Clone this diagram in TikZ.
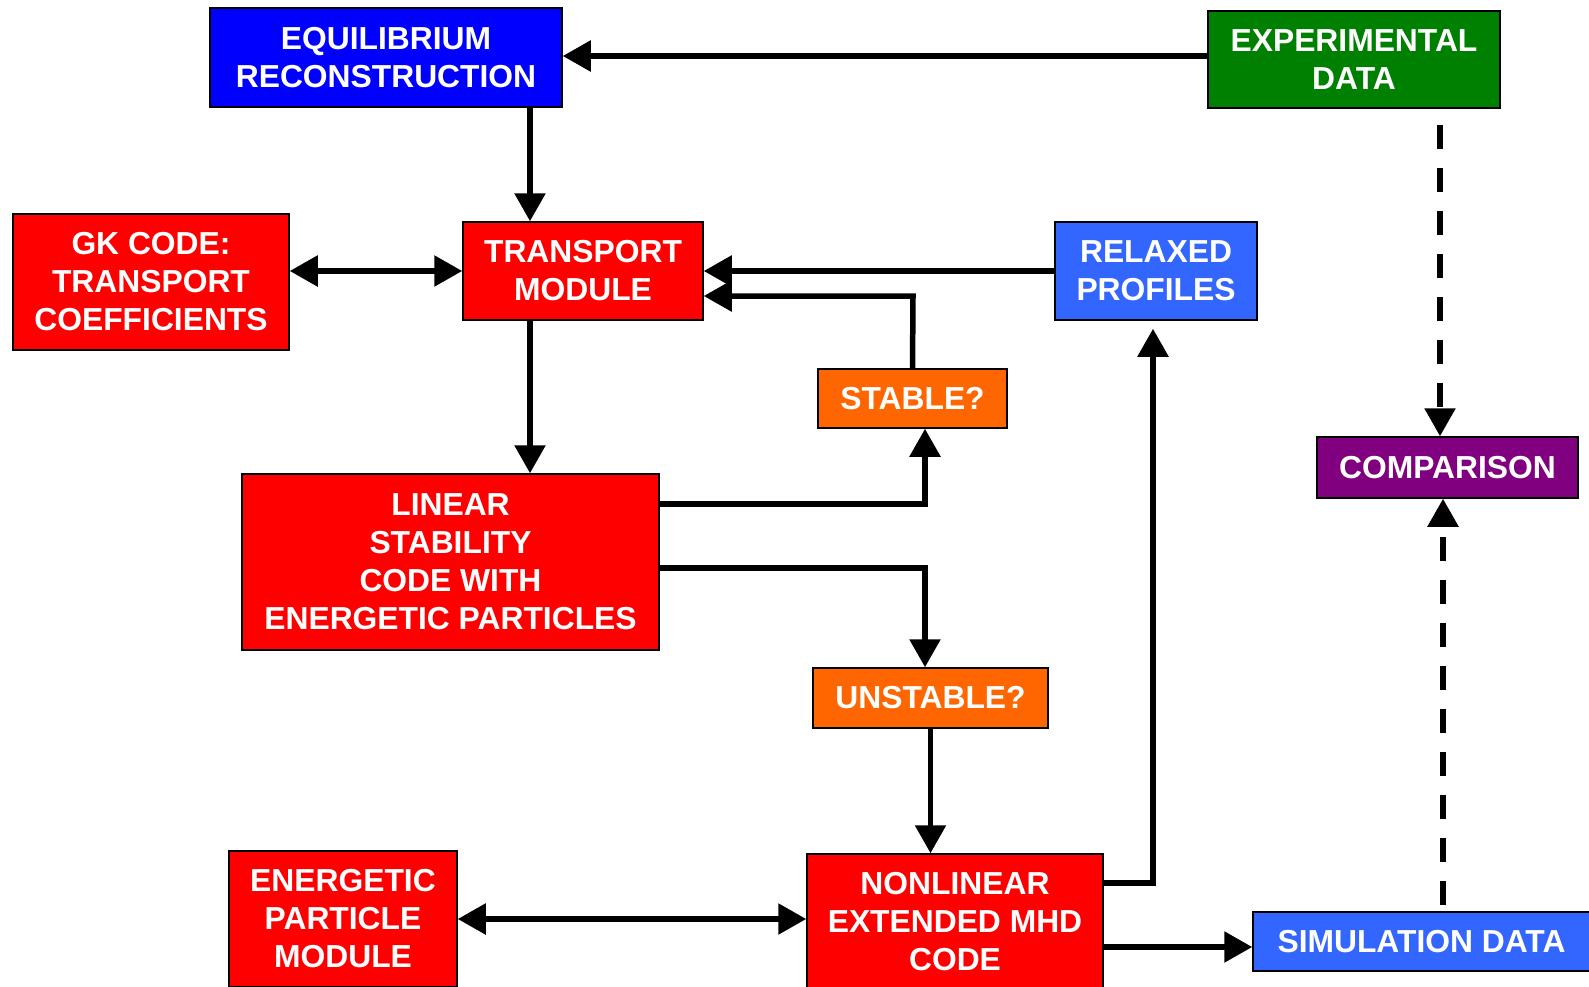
\documentclass[tikz,border=0pt]{standalone}
\usepackage{fontspec}
\setmainfont{Liberation Sans}
\usepackage{tikz}
\usetikzlibrary{arrows.meta, positioning}
\definecolor{eqblue}{HTML}{0000FF}
\definecolor{expgreen}{HTML}{008000}
\definecolor{codered}{HTML}{FF0000}
\definecolor{lightblue}{HTML}{3366FF}
\definecolor{askorange}{HTML}{FF6600}
\definecolor{cmppurple}{HTML}{800080}
\tikzstyle{block}=[draw=black,line width=1.5pt,text=white,inner sep=0pt,align=center,font=\fontsize{31.8}{38}\selectfont\bfseries]
\tikzstyle{mainedge}=[-{Triangle[length=28pt,width=30pt]},line width=5.5pt]
\tikzstyle{bothedge}=[{Triangle[length=28pt,width=30pt]}-{Triangle[length=28pt,width=30pt]},line width=5.5pt]
\tikzstyle{dashedge}=[mainedge,dash pattern=on 24pt off 19pt]

\begin{document}
\begin{tikzpicture}[x=1pt,y=-1pt]
\useasboundingbox (0,0) rectangle (1589,986);
%\draw[step=100,gray,very thin] (0,0) grid (1589,986);
\node[block,fill=eqblue,minimum width=352,minimum height=99] (equil) at (386,57.5) {EQUILIBRIUM\\RECONSTRUCTION};
\node[block,fill=expgreen,minimum width=292,minimum height=97] (exper) at (1354,59.5) {EXPERIMENTAL\\DATA};
\node[block,fill=codered,minimum width=276,minimum height=136] (gk) at (151,282) {GK CODE:\\TRANSPORT\\COEFFICIENTS};
\node[block,fill=codered,minimum width=240,minimum height=98] (trans) at (583,271) {TRANSPORT\\MODULE};
\node[block,fill=lightblue,minimum width=202,minimum height=98] (relax) at (1156,271) {RELAXED\\PROFILES};
\node[block,fill=askorange,minimum width=189,minimum height=59] (stable) at (912.5,398.5) {STABLE?};
\node[block,fill=cmppurple,minimum width=261,minimum height=61] (comp) at (1447.5,467.5) {COMPARISON};
\node[block,fill=codered,minimum width=417,minimum height=176] (linear) at (450.5,562) {LINEAR\\STABILITY\\CODE WITH\\ENERGETIC PARTICLES};
\node[block,fill=askorange,minimum width=235,minimum height=60] (unstable) at (930.5,698) {UNSTABLE?};
\node[block,fill=codered,minimum width=228,minimum height=136] (energ) at (343,919) {ENERGETIC\\PARTICLE\\MODULE};
\node[block,fill=codered,minimum width=296,minimum height=135] (nonlin) at (955,921.5) {NONLINEAR\\EXTENDED MHD\\CODE};
\node[block,fill=lightblue,minimum width=337,minimum height=59] (simul) at (1421.5,941.5) {SIMULATION DATA};

% bend points
\coordinate (e1) at (0,56);
\coordinate (tx) at (530,0);
\coordinate (s1) at (913,296);
\coordinate (l1) at (925,504);
\coordinate (l2) at (925,568);
\coordinate (n1) at (1153,883);
\coordinate (n2) at (0,947);
\coordinate (d1) at (1440,125);
\coordinate (d2) at (1443,905);

\draw[mainedge] (exper.west |- e1) -- (equil.east |- e1);
\draw[mainedge] (equil.south -| tx) -- (trans.north -| tx);
\draw[bothedge] (gk.east |- trans) -- (trans.west);
\draw[mainedge] (relax.west) -- (trans.east);
\draw[mainedge] (stable.north) -- (s1) -- (s1 -| trans.east);
\draw[mainedge] (trans.south -| tx) -- (linear.north -| tx);
\draw[mainedge] (l1 -| linear.east) -- (l1) -- (stable.south -| l1);
\draw[mainedge] (l2 -| linear.east) -- (l2) -- (unstable.north -| l2);
\draw[mainedge] (unstable.south) -- (unstable.south |- nonlin.north);
\draw[bothedge] (energ.east) -- (energ.east -| nonlin.west);
\draw[mainedge,shorten >=8pt] (n1 -| nonlin.east) -- (n1) -- (relax.south -| n1);
\draw[mainedge] (nonlin.east |- n2) -- (simul.west |- n2);

\draw[dashedge] (d1) -- (comp.north -| d1);
\draw[dashedge] (d2) -- (comp.south -| d2);

\end{tikzpicture}
\end{document}
